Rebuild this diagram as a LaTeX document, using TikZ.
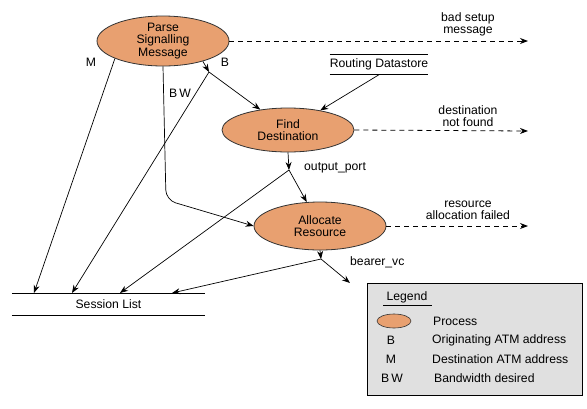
\documentclass[tikz,border=0pt]{standalone}
\usepackage{fontspec}
\setmainfont{Liberation Sans}
\usetikzlibrary{shapes.geometric,arrows.meta}
\definecolor{procfill}{HTML}{E8A070}
\definecolor{legfill}{HTML}{E0E0E0}
\tikzset{
  proc/.style={ellipse,draw=black!80,line width=0.8pt,fill=procfill,inner sep=0pt,align=center,font=\fontsize{12.2}{12.2}\selectfont},
  lbl/.style={align=center,font=\fontsize{12.2}{12.2}\selectfont,inner sep=0pt},
  arr/.style={-{Stealth[length=8pt,width=6pt]},line width=0.7pt},
  darr/.style={-{Stealth[length=8pt,width=6pt]},line width=0.8pt,dash pattern=on 5pt off 4pt},
  store/.style={lbl,minimum width=#1,minimum height=20pt,append after command={
     \pgfextra{\draw[line width=0.8pt] (\tikzlastnode.north west) -- (\tikzlastnode.north east)
       (\tikzlastnode.south west) -- (\tikzlastnode.south east);}}},
}
\begin{document}
\begin{tikzpicture}[x=1pt,y=-1pt]
\useasboundingbox (0,0) rectangle (587,408);
% processes
\node[proc,minimum width=132pt,minimum height=50pt] (parse) at (163,41) {Parse\\Signalling\\Message};
\node[proc,minimum width=132pt,minimum height=44pt] (find) at (288,130) {Find\\Destination};
\node[proc,minimum width=132pt,minimum height=48pt] (alloc) at (320,226) {Allocate\\Resource};
% stores
\node[store=87pt] (rds) at (379,64.5) {Routing Datastore};
\node[store=193pt,minimum height=21pt] (sess) at (108.5,304.5) {Session List};
% junctions and ends
\coordinate (jB) at (209,72);
\coordinate (jO) at (289,170);
\coordinate (jV) at (321,259);
\coordinate (vEnd) at (350,283);
\coordinate (e1) at (528,41);
\coordinate (e2) at (528,131);
\coordinate (e3) at (528,226);
\coordinate (s1) at (34,293);
\coordinate (s2) at (72,293);
\coordinate (s3) at (120,293);
\coordinate (s4) at (172,293);
\coordinate (bwc) at (166,200);
% dashed error flows
\draw[darr] (parse.east) -- (e1);
\draw[darr] (find.east) -- (e2);
\draw[darr] (alloc.east) -- (e3);
\node[lbl] (l1) at (468,24.5) {bad setup\\message};
\node[lbl] (l2) at (468,116.5) {destination\\not found};
\node[lbl] (l3) at (468,210) {resource\\allocation failed};
% flows
\draw[arr] (parse.200) -- (s1);
\draw[arr] (parse.-27) -- (jB);
\draw[arr] (jB) -- (find);
\draw[arr] (jB) -- (s2);
\draw[arr,rounded corners=10pt] (parse.south) -- (bwc) -- (alloc.west);
\draw[arr] (rds.south) -- (find);
\draw[arr] (find.south) -- (jO);
\draw[arr] (jO) -- (alloc);
\draw[arr] (jO) -- (s3);
\draw[arr] (alloc.south) -- (jV);
\draw[arr] (jV) -- (vEnd);
\draw[arr] (jV) -- (s4);
% flow labels
\node[lbl] (lM) at (91,62) {M};
\node[lbl] (lB) at (225,62) {B};
\node[lbl] (lBW) at (180,93) {B\,W};
\node[lbl,anchor=west] (lO) at (304,168) {output\_port};
\node[lbl,anchor=west] (lV) at (350,262) {bearer\_vc};
% legend
\node[draw=black,line width=0.8pt,fill=legfill,minimum width=215pt,minimum height=112pt,inner sep=0pt] (leg) at (474.5,339) {};
\node[lbl] (legT) at (407,297) {Legend};
\draw[line width=0.7pt] (383,305) -- (432,305);
\node[proc,minimum width=34pt,minimum height=14pt,line width=0.6pt] (legE) at (394,321) {};
\node[lbl,anchor=west] (legP) at (433,321) {Process};
\node[lbl] (legB) at (391,340) {B};
\node[lbl,anchor=west] (legBt) at (432,340) {Originating ATM address};
\node[lbl] (legM) at (391,359) {M};
\node[lbl,anchor=west] (legMt) at (432,359) {Destination ATM address};
\node[lbl] (legBW) at (392,378) {B\,W};
\node[lbl,anchor=west] (legBWt) at (434,378) {Bandwidth desired};
\end{tikzpicture}
\end{document}
